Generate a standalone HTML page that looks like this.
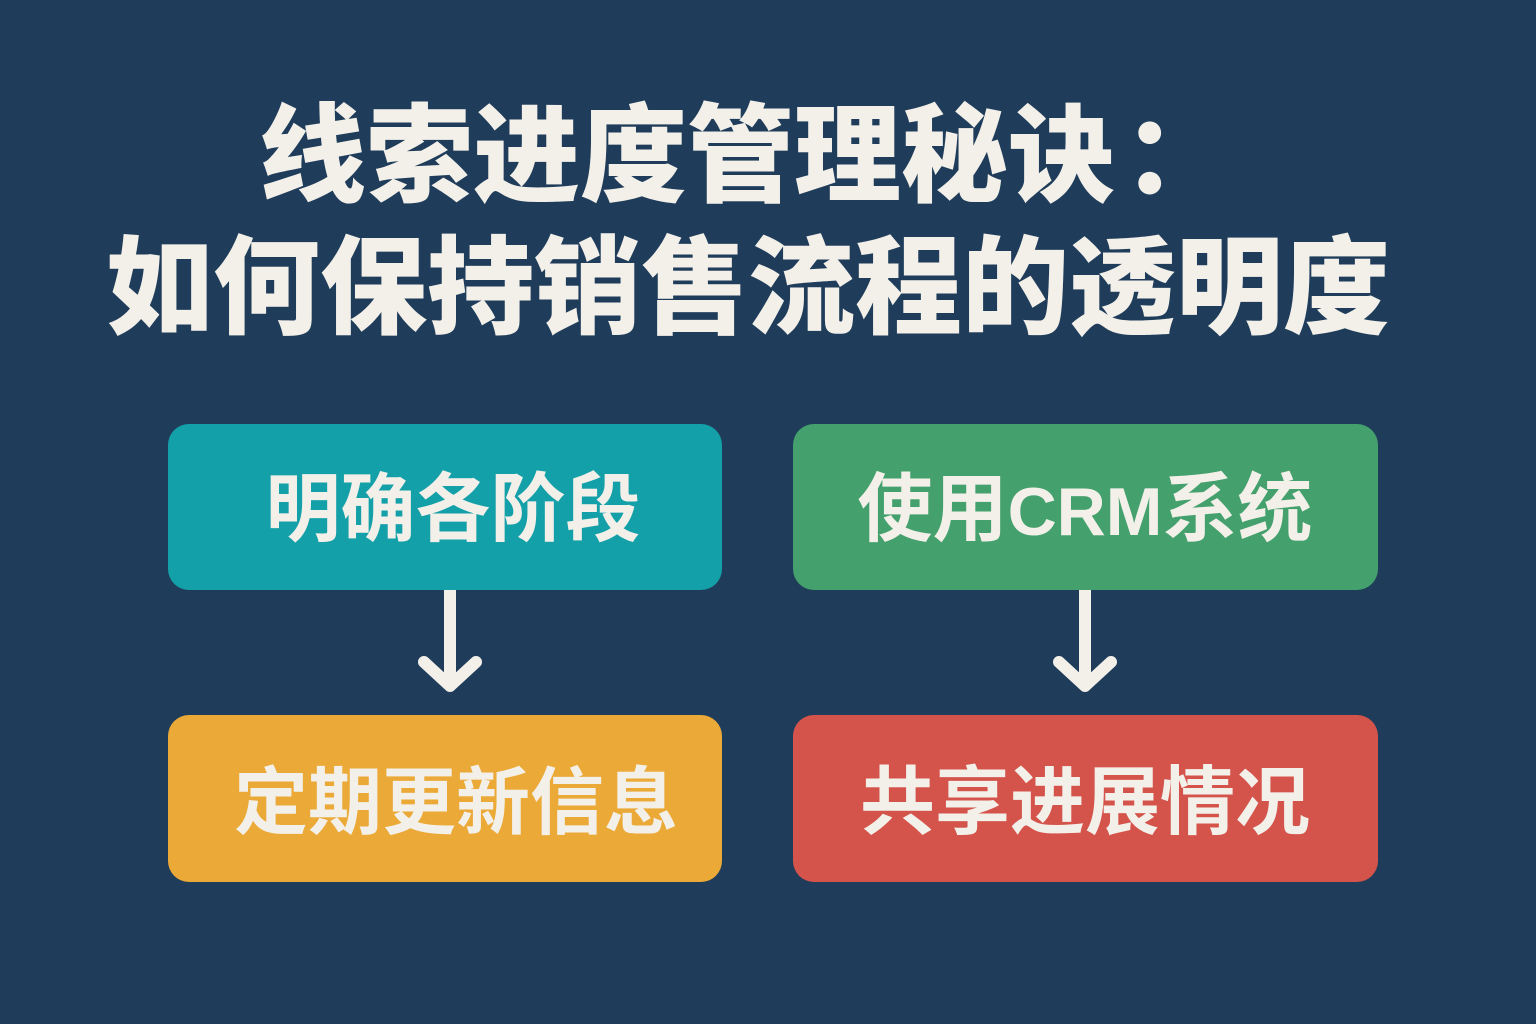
<!DOCTYPE html>
<html>
<head>
<meta charset="utf-8">
<style>
  html, body { margin: 0; padding: 0; }
  body { width: 1536px; height: 1024px; background: #1f3d5a; overflow: hidden; }
  svg { display: block; }
  text { font-family: "Liberation Sans", "Noto Sans CJK SC", sans-serif; fill: #f3f0ea; }
</style>
</head>
<body>
<svg width="1536" height="1024" viewBox="0 0 1536 1024" xmlns="http://www.w3.org/2000/svg">
  <rect x="0" y="0" width="1536" height="1024" fill="#1f3d5a"/>

  <!-- Title -->
  <text x="259" y="193" font-size="107" font-weight="900">线索进度管理秘诀<tspan dx="8">：</tspan></text>
  <text x="106" y="325" font-size="107" font-weight="900">如何保持销售流程的透明度</text>

  <!-- Arrows (under boxes) -->
  <g stroke="#f3f0ea" stroke-width="12" stroke-linecap="round" stroke-linejoin="round" fill="none">
    <line x1="450" y1="586" x2="450" y2="684"/>
    <polyline points="424,662 450,686 476,662"/>
    <line x1="1085" y1="586" x2="1085" y2="684"/>
    <polyline points="1059,662 1085,686 1111,662"/>
  </g>

  <!-- Boxes -->
  <rect x="168" y="424" width="554" height="166" rx="21" fill="#14a0a8"/>
  <rect x="793" y="424" width="585" height="166" rx="21" fill="#44a06c"/>
  <rect x="168" y="715" width="554" height="167" rx="21" fill="#eba937"/>
  <rect x="793" y="715" width="585" height="167" rx="21" fill="#d4534a"/>

  <!-- Box labels -->
  <text x="453" y="535" font-size="75" font-weight="700" text-anchor="middle">明确各阶段</text>
  <text x="1085" y="535" font-size="75" font-weight="700" text-anchor="middle">使用<tspan font-size="68">CRM</tspan>系统</text>
  <text x="456" y="828" font-size="74" font-weight="700" text-anchor="middle">定期更新信息</text>
  <text x="1085" y="828" font-size="75" font-weight="700" text-anchor="middle">共享进展情况</text>
</svg>
</body>
</html>
